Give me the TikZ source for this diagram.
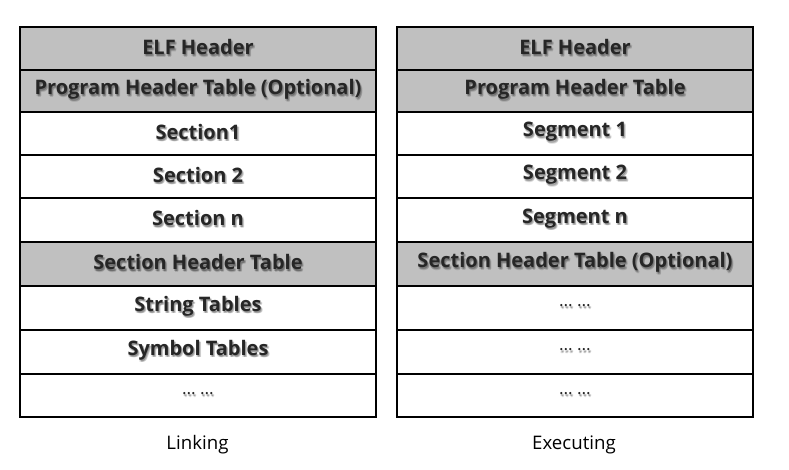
\documentclass[tikz,border=0pt]{standalone}
\usepackage{fontspec}
\setmainfont{Open Sans}
\definecolor{hdrfill}{HTML}{C0C0C0}
\definecolor{celltext}{HTML}{262626}
\begin{document}
\begin{tikzpicture}[x=0.75pt,y=-0.75pt,
  cell/.style={draw=black,line width=1.5pt,minimum width=267pt,inner sep=0pt,anchor=north west,text opacity=0},
  hdr/.style={cell,fill=hdrfill},
  plain/.style={cell,fill=white},
  boldtxt/.style={font=\bfseries\fontsize{15}{18}\selectfont},
  dottxt/.style={font=\fontsize{13}{15}\selectfont},
  soft/.style={text=black,opacity=0.13},
  caption/.style={font=\fontsize{14}{17}\selectfont,text=black}]
\useasboundingbox (0,0) rectangle (789,469);
% a cell: frame (name, style, left, top, height), a soft drop shadow under its label, then the label
\newcommand{\tablecell}[7]{%
  \node[#2,minimum height=#5*0.75pt] (#1) at (#3,#4) {};
  \coordinate (#1-txt) at ([yshift=1.3pt]#1.center);
  \foreach \dx/\dy in {1/1.5,2/2,1.5/2.8,0.3/2.2}
    \node[#6,soft] at ([xshift=\dx*0.75pt,yshift=-\dy*0.75pt]#1-txt) {#7};
  \node[#6,text=celltext] at (#1-txt) {#7};}
% Linking view
\tablecell{l1}{hdr}{19}{26}{43}{boldtxt}{ELF Header}
\tablecell{l2}{hdr}{19}{69}{42}{boldtxt}{Program Header Table (Optional)}
\tablecell{l3}{plain}{19}{111}{42.5}{boldtxt}{Section1}
\tablecell{l4}{plain}{19}{153.5}{43.5}{boldtxt}{Section 2}
\tablecell{l5}{plain}{19}{197}{44}{boldtxt}{Section n}
\tablecell{l6}{hdr}{19}{241}{43.5}{boldtxt}{Section Header Table}
\tablecell{l7}{plain}{19}{284.5}{44.2}{boldtxt}{String Tables}
\tablecell{l8}{plain}{19}{328.7}{44}{boldtxt}{Symbol Tables}
\tablecell{l9}{plain}{19}{372.7}{43.3}{dottxt}{\dots\ \dots}
% Executing view
\tablecell{r1}{hdr}{396}{26}{43}{boldtxt}{ELF Header}
\tablecell{r2}{hdr}{396}{69}{42}{boldtxt}{Program Header Table}
\tablecell{r3}{plain}{396}{111}{42.5}{boldtxt}{Segment 1}
\tablecell{r4}{plain}{396}{153.5}{43.5}{boldtxt}{Segment 2}
\tablecell{r5}{plain}{396}{197}{44}{boldtxt}{Segment n}
\tablecell{r6}{hdr}{396}{241}{43.5}{boldtxt}{Section Header Table (Optional)}
\tablecell{r7}{plain}{396}{284.5}{44.2}{dottxt}{\dots\ \dots}
\tablecell{r8}{plain}{396}{328.7}{44}{dottxt}{\dots\ \dots}
\tablecell{r9}{plain}{396}{372.7}{43.3}{dottxt}{\dots\ \dots}
% captions
\node[caption] (linking)   at (197.5,445) {Linking};
\node[caption] (executing) at (574,445)   {Executing};
\end{tikzpicture}
\end{document}
